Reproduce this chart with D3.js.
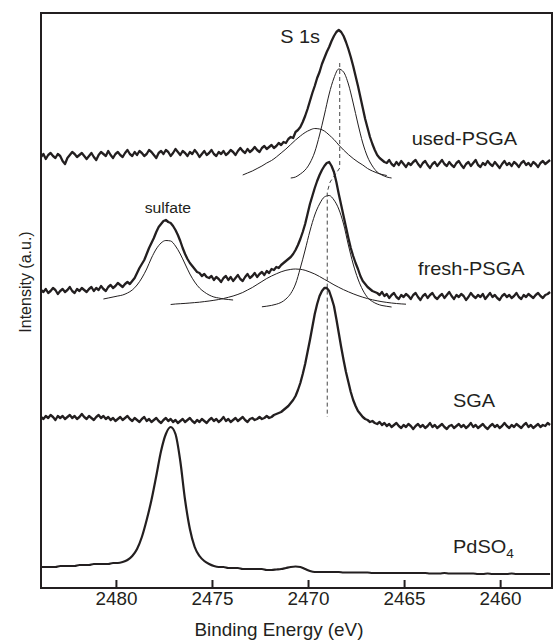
<!DOCTYPE html>
<html>
<head>
<meta charset="utf-8">
<script src="https://cdn.jsdelivr.net/npm/d3@7"></script>
<style>
  body { margin: 0; background: #fff; }
  text { font-family: Arial, "Liberation Sans", Helvetica, sans-serif; fill: #231f20; }
</style>
</head>
<body>
<div id="xps-plot"></div>
<script>
// binding energy grids (eV): scans at 0.125 eV per channel, reference + fits at 0.25 eV
const eStart = 2483.9;
const eStepScan = 0.125;
const eStep = 0.25;
const scanEnergy = d3.range(213).map(i => eStart - eStepScan * i);
const refEnergy = d3.range(107).map(i => eStart - eStep * i);

// measured spectra (a.u.), stacked as in the figure
const usedPSGA = [
  422,425,420,424,426,423,421,425,423,418, 415,421,424,427,425,422,424,426,423,420,
  423,426,422,419,424,427,425,423,428,424, 421,425,427,424,422,426,429,425,423,427,
  424,428,426,423,425,429,427,424,421,426, 428,425,429,427,423,426,430,427,424,428,
  426,423,427,425,429,426,422,425,428,424, 426,429,425,423,427,425,428,424,426,429,
  427,424,428,431,428,426,430,427,429,432, 429,427,431,433,430,432,434,431,
  433,436,434,437,436,440,442,441,447,449, 452,457,463,470,478,486,493,501,507,515,
  521,527,532,538,543,547,549,547,543,537, 530,522,513,503,493,482,471,460,451,442,
  435,429,424,421,419,
  417,416,419,415,413,417,414,418,415,412, 416,414,417,419,415,412,416,418,414,411,
  415,417,413,416,419,415,413,417,414,412, 416,418,414,411,415,417,413,416,419,414,
  412,416,414,418,415,413,417,414,411,415, 418,414,416,413,417,415,412,416,418,414,
  416,413,417,415,412,416,418,415,417,419
];
const freshPSGA = [
  289,287,290,286,288,291,289,285,288,290, 287,289,292,288,286,290,288,291,289,287,
  290,292,288,291,289,293,290,288,292,294, 291,293,296,294,292,295,297,295,
  298,301,306,311,315,319,325,331,336,341, 347,352,355,358,359,357,356,353,349,344,
  338,331,325,320,316,313,310,307,306,303, 305,302,301,
  303,299,302,300,297,301,303,299,302,298, 301,304,300,298,302,305,301,303,306,302,
  305,307,304,308,306,310,309,312,311,314,
  316,318,320,322,325,329,334,340,347,355, 365,375,383,391,398,404,409,413,416,417,
  413,407,397,385,374,363,352,341,331,323, 316,310,303,298,295,292,290,288,287,286,
  284,287,283,285,281,284,286,282,280,284, 282,285,283,280,284,286,282,279,283,285,
  281,284,286,282,280,283,285,281,284,287, 283,280,284,282,285,283,279,282,286,283,
  281,284,282,285,280,283,286,282,284,281, 279,283,285,282,284,281,283,286,282,280,
  284,282,285,283,281,284,286,283,281,284, 285,287
];
const SGA = [
  162,160,163,161,164,162,159,163,161,163, 160,162,164,161,163,160,162,165,162,160,
  163,161,159,162,164,161,163,160,162,159, 161,158,160,162,159,161,163,160,158,161,
  159,157,160,162,158,160,157,159,161,158, 156,159,161,158,160,157,159,156,158,160,
  157,159,161,158,156,159,157,160,158,156, 159,161,158,160,157,159,162,158,160,157,
  159,161,158,160,162,159,157,160,161,159, 160,162,160,161,163,161,162,164,
  165,166,167,169,171,173,176,179,183,189, 196,205,215,227,239,252,265,275,283,288,
  291,291,288,281,273,260,246,232,219,207, 197,187,179,173,168,165,162,160,159,
  157,158,156,155,157,154,156,153,155,152, 154,156,153,151,154,152,155,153,150,153,
  155,152,154,151,153,156,152,154,151,153, 155,152,150,153,154,151,153,155,152,154,
  151,153,156,152,154,151,153,155,152,150, 153,155,152,154,151,153,156,153,151,154,
  152,155,153,151,154,156,152,154,151,153, 155,152,154,153,156,154
];
const PdSO4 = [
  12,12,12,12,13,13,13,13,14,14,
  14,15,15,15,15,16,16,17,19,23,
  30,42,59,79,103,128,145,152,145,118,
  79,50,32,23,18,15,13,12,12,11,
  11,11,10,10,10,10,10,9,9,9.5,
  10,11,12,12.5,12,10,8,7,7,7,
  7,7,7,6.5,6.5,6.5,6.5,6.5,6.5,6,
  6,6,6,6,6,6,6,6,6,6,
  6,5.5,5.5,5.5,6,5.5,5.5,5.5,5.5,5.5,
  5.5,5,5,5.5,5,5,5,5,5.5,5,
  5,5,5,5,5,5,5
];

// fitted components: first energy of each, 0.25 eV step
const usedFitNarrowStart = 2470.9;
const usedFitNarrow = [401,402,405,409,416,427,444,464,485,501,510,507,495,476,455,436,422,413,407,404,402,401];
const usedFitBroadStart = 2473.4;
const usedFitBroad = [404,406,408,410.5,413,416,418.5,422,426,430,434.5,439,443,446.5,449,450.5,450,448,444,439.5,
  434,429,424.5,420.5,417,414,410.5,408,406,404.5,403.5];
const freshFitSulfateStart = 2480.65;
const freshFitSulfate = [280,281,282,283,284,286,289,294,301,310,321,330,336,338.5,338,333,325,315,305,297,
  291,287,284,282,281,280,279.5,279];
const freshFitBroadStart = 2477.15;
const freshFitBroad = [274.5,275,275.3,275.6,276,276.4,276.8,277.4,278,278.7,279.5,280.5,281.7,283,284.6,286.5,289,291.5,294.5,297.5,
  300.5,303,305.2,307.2,308.7,309.6,310,309.7,308.7,307,305,302.5,299.7,297,294.2,291.7,289.3,287.2,285.2,283.4,
  281.8,280.4,279.2,278.2,277.3,276.6,276,275.5,275.1,274.8];
const freshFitNarrowStart = 2472.4;
const freshFitNarrow = [272.2,272.8,273.6,274.8,276.6,280,285.5,295,311,329,348,364,375,382,383.5,379,370,355,334,315,
  300,289,281.5,277.5,275,273.5,272.7,272];

// dashed guide through the main S 1s peak positions
const guideEnergy = [2468.35, 2468.35, 2468.85, 2469.0, 2469.0];
const guideIntensity = [516, 411, 397, 387, 162];

const xTicks = [2480, 2475, 2470, 2465, 2460];

function plot_xps(){
    const width = 556;
    const height = 642;
    const stretch = "scale(1.05,1)";

    const margin = {
        left: 41,
        right: 4,
        top: 13,
        bottom: 54
    };

    let svg = d3.select("#xps-plot")
        .append("svg")
        .attr("width", width)
        .attr("height", height);

    let xScale = d3.scaleLinear()
        .domain([eStart, 2457.3])
        .range([margin.left, width - margin.right]);

    let yScale = d3.scaleLinear()
        .domain([-9, 566])
        .range([height - margin.bottom, margin.top]);

    svg.append("clipPath")
        .attr("id", "plot-area")
        .append("rect")
        .attr("x", margin.left)
        .attr("y", margin.top)
        .attr("width", width - margin.left - margin.right)
        .attr("height", height - margin.top - margin.bottom);

    let plot = svg.append("g").attr("clip-path", "url(#plot-area)");

    // fitted components (thin)
    const fits = [
        [usedFitNarrowStart, usedFitNarrow],
        [usedFitBroadStart, usedFitBroad],
        [freshFitSulfateStart, freshFitSulfate],
        [freshFitBroadStart, freshFitBroad],
        [freshFitNarrowStart, freshFitNarrow]
    ].map(f => f[1].map((v, i) => ({e: f[0] - eStep * i, v: v})));

    let fitLine = d3.line()
        .curve(d3.curveMonotoneX)
        .x(d => xScale(d.e))
        .y(d => yScale(d.v));

    plot.selectAll(".fit")
        .data(fits)
        .enter()
        .append("path")
        .attr("class", "fit")
        .attr("fill", "none")
        .attr("stroke", "#231f20")
        .attr("stroke-width", 1)
        .attr("d", d => fitLine(d));

    // dashed guide
    let guide = guideEnergy.map((e, i) => ({e: e, v: guideIntensity[i]}));
    plot.append("path")
        .attr("fill", "none")
        .attr("stroke", "#444")
        .attr("stroke-width", 1)
        .attr("stroke-dasharray", "4,3")
        .attr("d", d3.line().x(d => xScale(d.e)).y(d => yScale(d.v))(guide));

    // measured spectra (thick)
    const spectra = [usedPSGA, freshPSGA, SGA].map(s => s.map((v, i) => ({e: scanEnergy[i], v: v})));

    let specLine = d3.line()
        .x(d => xScale(d.e))
        .y(d => yScale(d.v));

    plot.selectAll(".curve")
        .data(spectra)
        .enter()
        .append("path")
        .attr("class", "curve")
        .attr("fill", "none")
        .attr("stroke", "#231f20")
        .attr("stroke-width", 2.3)
        .attr("stroke-linejoin", "round")
        .attr("d", d => specLine(d));

    plot.append("path")
        .attr("fill", "none")
        .attr("stroke", "#231f20")
        .attr("stroke-width", 2.2)
        .attr("stroke-linejoin", "round")
        .attr("d", d3.line().curve(d3.curveMonotoneX)
            .x(d => xScale(d.e)).y(d => yScale(d.v))(PdSO4.map((v, i) => ({e: refEnergy[i], v: v}))));

    // frame
    svg.append("rect")
        .attr("x", margin.left)
        .attr("y", margin.top)
        .attr("width", width - margin.left - margin.right)
        .attr("height", height - margin.top - margin.bottom)
        .attr("fill", "none")
        .attr("stroke", "#231f20")
        .attr("stroke-width", 2);

    // x axis, ticks pointing inward
    let xAxis = svg.append("g")
        .attr("class", "axis axis--x")
        .attr("transform", "translate(0," + (height - margin.bottom) + ")")
        .call(d3.axisBottom(xScale)
            .tickValues(xTicks)
            .tickSizeInner(-8)
            .tickSizeOuter(0)
            .tickPadding(4)
            .tickFormat(d3.format("d")));
    xAxis.select(".domain").remove();
    xAxis.selectAll(".tick line").attr("stroke", "#231f20").attr("stroke-width", 2);
    xAxis.selectAll(".tick text")
        .style("font-size", "18px")
        .style("font-family", "Arial, 'Liberation Sans', sans-serif")
        .attr("fill", "#231f20")
        .attr("transform", stretch);

    svg.append("text")
        .attr("text-anchor", "middle")
        .style("font-size", "18px")
        .attr("transform", "translate(279,636) " + stretch)
        .text("Binding Energy (eV)");

    svg.append("text")
        .attr("text-anchor", "middle")
        .style("font-size", "16px")
        .attr("transform", "translate(31,282) rotate(-90)")
        .text("Intensity (a.u.)");

    // annotations
    const label = (txt, e, v, size) => svg.append("text")
        .attr("transform", `translate(${xScale(e)},${yScale(v)}) ` + stretch)
        .style("font-size", size + "px")
        .text(txt);

    label("S 1s", 2471.45, 536, 19);
    label("used-PSGA", 2464.6, 434, 19);
    label("sulfate", 2478.5, 366, 15);
    label("fresh-PSGA", 2464.27, 304, 19);
    label("SGA", 2462.45, 172, 19);
    let pd = label("PdSO", 2462.45, 26, 19);
    pd.append("tspan")
        .attr("dy", 5)
        .style("font-size", "13px")
        .text("4");
}

plot_xps();
</script>
</body>
</html>
